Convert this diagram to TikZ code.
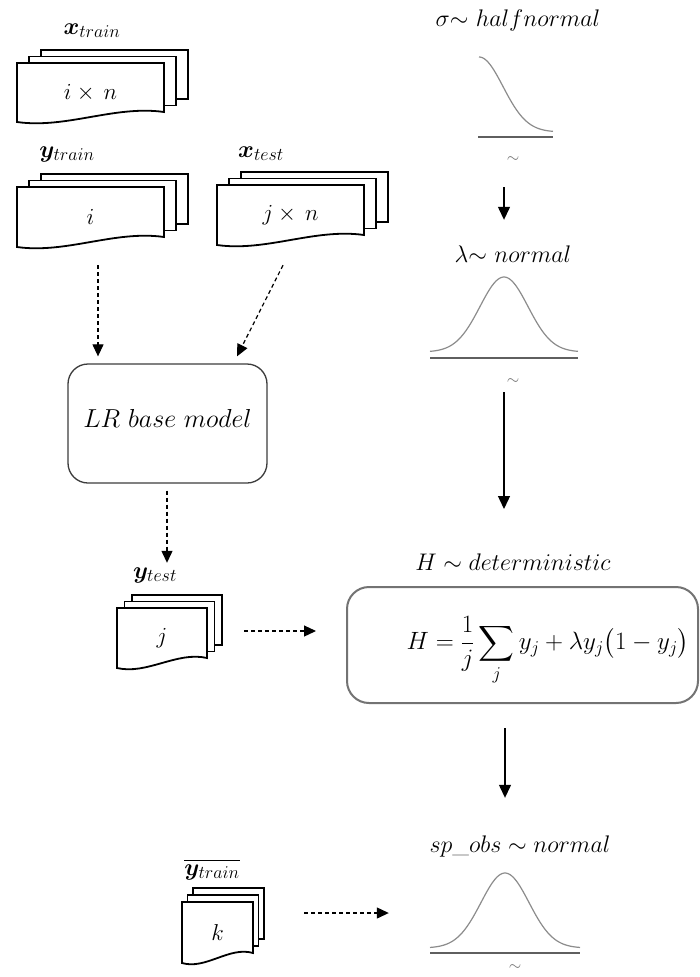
\RequirePackage{fix-cm}
\documentclass[tikz,border=0pt]{standalone}
\usepackage{amsmath,bm}
\usetikzlibrary{arrows.meta,calc}
\DeclareMathSizes{24}{24}{18}{13}
\DeclareMathSizes{25}{25}{18}{13}
\DeclareMathSizes{26}{26}{19}{14}
\definecolor{curvegray}{RGB}{140,140,140}
\definecolor{basegray}{RGB}{95,95,95}
\definecolor{tildegray}{RGB}{110,110,110}
\definecolor{hboxgray}{RGB}{115,115,115}
\definecolor{lrgray}{RGB}{60,60,60}
\tikzset{
  docline/.style={draw=black, fill=white, line width=1.8pt, line join=miter},
  docnode/.style={draw=none, inner sep=0pt, font=\fontsize{23}{27}\selectfont},
  txt/.style={inner sep=0pt, anchor=base, font=\fontsize{24}{28}\selectfont},
  tld/.style={inner sep=0pt, text=tildegray, font=\fontsize{16}{18}\selectfont},
  curve/.style={draw=curvegray, line width=1.2pt},
  baseln/.style={draw=basegray, line width=2pt},
  darr/.style={draw=black, line width=1.2pt, dash pattern=on 4pt off 3pt, -{Triangle[length=12pt,width=11pt]}},
  sarr/.style={draw=black, line width=1.3pt, -{Triangle[length=13pt,width=12pt]}},
  anchorbox/.style={draw=none, inner sep=0pt},
}
% name, x0, ytop, w, h, dx, dy, text
\newcommand{\mdocstack}[8]{%
  \draw[docline] ({#2+2*#6},{#3-2*#7}) rectangle ({#2+2*#6+#4},{#3-2*#7+#5-10});
  \draw[docline] ({#2+#6},{#3-#7}) rectangle ({#2+#6+#4},{#3-#7+#5-10});
  \draw[docline] (#2,#3) -- ({#2+#4},#3) -- ({#2+#4},{#3+#5-10})
     .. controls ({#2+2*#4/3},{#3+#5-17}) and ({#2+#4/3},{#3+#5+7}) .. (#2,{#3+#5}) -- cycle;
  \node[docnode, minimum width=#4pt, minimum height=#5pt] (#1) at ({#2+#4/2},{#3+#5/2}) {#8};
}
\begin{document}
\begin{tikzpicture}[x=1pt,y=-1pt]
\useasboundingbox (0,0) rectangle (700,977);
\fill[white] (0,0) rectangle (700,977);

% ---------- left column: data stacks ----------
\node[txt] (xtrlab) at (92,34) {$\bm{x}_{train}$};
\mdocstack{xtr}{17}{63}{147}{59}{12}{6.5}{$i\times\, n$}

\node[txt] (ytrlab) at (67,157) {$\bm{y}_{train}$};
\mdocstack{ytr}{17}{187}{147}{60}{12}{6.5}{$i$}

\node[txt] (xtelab) at (261,157) {$\bm{x}_{test}$};
\mdocstack{xte}{217}{185}{147}{60}{12}{6.5}{$j\times\, n$}

% LR base model
\node[draw=lrgray, line width=1.3pt, rounded corners=20pt, minimum width=199pt,
      minimum height=119pt, inner sep=0pt, text depth=11pt,
      font=\fontsize{26}{30}\selectfont] (lr) at (167.5,423.5) {$LR\ base\ model$};

\node[txt] (ytelab) at (155,578) {$\bm{y}_{test}$};
\mdocstack{yte}{117}{608}{90}{60}{7.5}{6.5}{$j$}

\node[txt] (ybtlab) at (212,875) {$\overline{\bm{y}_{train}}$};
\mdocstack{ybt}{182}{902}{71}{61}{5.5}{7}{$k$}

% ---------- right column: distributions ----------
\node[txt] (sigl) at (518,27) {$\sigma{\sim}\ halfnormal$};
\node[anchorbox, minimum width=148pt, minimum height=80pt] (sigcurve) at (504,97) {};
\draw[curve] plot[domain=479:553, samples=60] (\x, {132 - 75*exp(-(\x-479)*(\x-479)/1152)});
\draw[baseln] (478,137) -- (553,137);
\node[tld] (sigt) at (513,160) {$\sim$};

\node[txt] (laml) at (513,262) {$\lambda{\sim}\ normal$};
\node[anchorbox, minimum width=148pt, minimum height=81pt] (lamcurve) at (504,317.5) {};
\draw[curve] plot[domain=430:578, samples=80] (\x, {352 - 75*exp(-(\x-504)*(\x-504)/1152)});
\draw[baseln] (430,358) -- (578,358);
\node[tld] (lamt) at (513,382) {$\sim$};

\node[txt] (hl) at (513,570) {$H \sim deterministic$};
\node[draw=hboxgray, line width=2pt, rounded corners=22pt, minimum width=351pt,
      minimum height=116pt, inner sep=0pt] (hbox) at (522.5,645) {};
\node[inner sep=0pt, font=\fontsize{25}{29}\selectfont] (eq) at (548,651)
  {$\displaystyle H=\frac{1}{j}\sum_{j} y_j+\lambda y_j\bigl(1-y_j\bigr)$};

\node[txt] (spl) at (520,852) {$sp\_obs \sim normal$};
\node[anchorbox, minimum width=150pt, minimum height=80pt] (spcurve) at (505,913) {};
\draw[curve] plot[domain=430:580, samples=80] (\x, {948 - 75*exp(-(\x-505)*(\x-505)/1152)});
\draw[baseln] (430,953) -- (580,953);
\node[tld] (spt) at (515,968) {$\sim$};

% ---------- connectors ----------
\draw[darr] ($(ytr.south)+(7.5,18)$) -- ($(lr.north)+(-69.5,-7)$);
\draw[darr] ($(xte.south)+(-7.5,20)$) -- ($(lr.north)+(69.5,-7)$);
\draw[darr] ($(lr.south)+(-0.5,7)$) -- ($(yte.north)+(5,-45)$);
\draw[darr] ($(yte.east)+(37,-7)$) -- ($(hbox.west)+(-30,-14)$);
\draw[darr] ($(ybt.east)+(51,-19.5)$) -- ($(spcurve.west)+(-41,0)$);

\draw[sarr] ($(sigcurve.south)+(0,50)$) -- ($(lamcurve.north)+(0,-57)$);
\draw[sarr] ($(lamcurve.south)+(0,34)$) -- ($(hbox.north -| lamcurve)+(0,-77)$);
\draw[sarr] ($(hbox.south -| spcurve)+(0,24)$) -- ($(spcurve.north)+(0,-75)$);
\end{tikzpicture}
\end{document}
